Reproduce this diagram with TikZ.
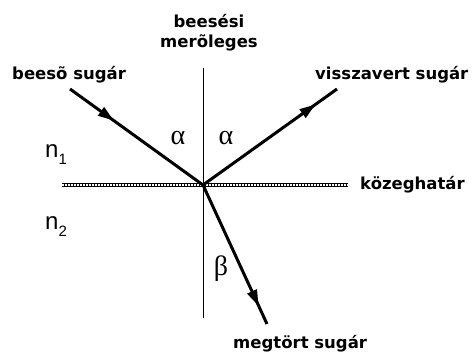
\documentclass[tikz,border=0pt]{standalone}
\usepackage{fontspec}
\setmainfont{DejaVu Sans}
\newfontfamily\grkfont{Liberation Serif}
\newfontfamily\nfont{Liberation Sans}
\usetikzlibrary{decorations.markings,arrows.meta}
\begin{document}
\begin{tikzpicture}[x=1pt,y=-1pt,
  lbl/.style={font=\fontsize{16.5}{20}\selectfont\bfseries, inner sep=0pt},
  grk/.style={font=\fontsize{28}{30}\selectfont\grkfont, inner sep=0pt},
  nlbl/.style={font=\fontsize{24}{26}\selectfont\nfont, inner sep=0pt},
  ray/.style={line width=3pt},
  midarrow/.style={postaction={decorate},decoration={markings,
     mark=at position #1 with {\arrow{Triangle[length=16pt,width=10pt]}}}},
  normalline/.style={line width=1pt},
]
\useasboundingbox (0,0) rectangle (473,352);
\fill[white] (0,0) rectangle (473,352);

% coordinates
\coordinate (O) at (203,185);
\coordinate (A) at (70,89);
\coordinate (R) at (337,89);
\coordinate (T) at (267,324);
\coordinate (Ntop) at (203,68);
\coordinate (Nbot) at (203,318);
\coordinate (Il) at (62,185);
\coordinate (Ir) at (348,185);

% normal
\draw[normalline] (Ntop) -- (Nbot);

% interface
\draw[line width=4pt] (Il) -- (Ir);
\draw[white,line width=1.2pt,dash pattern=on 1.5pt off 1.5pt] (Il) -- (Ir);

% rays
\draw[ray,midarrow=0.33] (A) -- (O);
\draw[ray,midarrow=0.84] (O) -- (R);
\draw[ray,midarrow=0.87] (O) -- (T);

% labels
\node[lbl,align=center,anchor=north] (perp) at (209,14) {beesési\\merõleges};
\node[lbl,anchor=base west] (inc) at (12,80) {beesõ sugár};
\node[lbl,anchor=base west] (refl) at (315,80) {visszavert sugár};
\node[lbl,anchor=west] (kozeg) at (360,185) {közeghatár};
\node[lbl,anchor=base west] (megt) at (233,348) {megtört sugár};

\node[grk,anchor=base] (a1) at (178,145) {α};
\node[grk,anchor=base] (a2) at (226,145) {α};
\node[grk,anchor=base] (b1) at (221,276) {β};

\node[nlbl,anchor=base west] (n1) at (45,158) {n\raisebox{-7pt}{\fontsize{15}{15}\selectfont 1}};
\node[nlbl,anchor=base west] (n2) at (45,230) {n\raisebox{-7pt}{\fontsize{15}{15}\selectfont 2}};
\end{tikzpicture}
\end{document}
